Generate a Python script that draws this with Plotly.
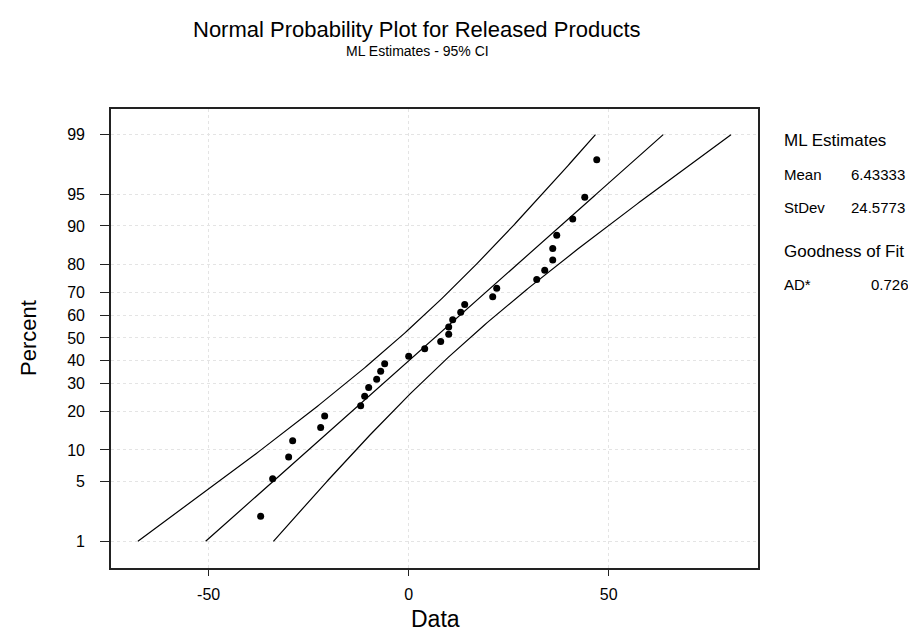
import numpy as np
import plotly.graph_objects as go
from statistics import NormalDist

# ---- data ----
data_values = [-37, -34, -30, -29, -22, -21, -12, -11, -10, -8, -7, -6, 0, 4, 8,
               10, 10, 11, 13, 14, 21, 22, 32, 34, 36, 36, 37, 41, 44, 47]
plot_percent = [2.07, 5.37, 8.68, 11.98, 15.29, 18.60, 21.90, 25.21, 28.51, 31.82,
                35.12, 38.43, 41.74, 45.04, 48.35, 51.65, 54.96, 58.26, 61.57, 64.88,
                68.18, 71.49, 74.79, 78.10, 81.40, 84.71, 88.02, 91.32, 94.63, 97.93]
percent_ticks = [1, 5, 10, 20, 30, 40, 50, 60, 70, 80, 90, 95, 99]
x_ticks = [-50, 0, 50]
ml_mean = 6.43333
ml_stdev = 24.5773
ad_stat = 0.726
n_obs = 30
ci_level_z = 1.96

nd = NormalDist()
def z_of(p):
    return nd.inv_cdf(p / 100.0)

FONT = "Liberation Sans, Arial, Helvetica, sans-serif"

# fitted line and ML confidence bands (from the stated estimates)
zgrid = np.linspace(z_of(1), z_of(99), 200)
fit_x = ml_mean + ml_stdev * zgrid
se = ml_stdev * np.sqrt(1.0 / n_obs + zgrid ** 2 / (2.0 * n_obs))
lower_x = fit_x - ci_level_z * se
upper_x = fit_x + ci_level_z * se

fig = go.Figure()
line_style = dict(color="black", width=1.2)
for xs in (upper_x, fit_x, lower_x):
    fig.add_trace(go.Scatter(x=xs, y=zgrid, mode="lines", line=line_style,
                             hoverinfo="skip", showlegend=False))
fig.add_trace(go.Scatter(x=data_values, y=[z_of(p) for p in plot_percent],
                         mode="markers",
                         marker=dict(symbol="circle", size=7, color="black"),
                         showlegend=False))

axis_common = dict(
    showline=True, mirror=True, linecolor="#222", linewidth=1.6,
    ticks="outside", tickcolor="#222", tickwidth=1.2,
    showgrid=True, gridcolor="#e4e4e4", griddash="dot", gridwidth=1,
    zeroline=False, tickfont=dict(family=FONT, size=16, color="black"),
)

fig.update_xaxes(range=[-74.4, 87.3], tickvals=x_ticks,
                 ticktext=[str(v) for v in x_ticks], ticklen=6,
                 ticklabelstandoff=5, **axis_common)
fig.update_yaxes(range=[-2.632, 2.620], tickvals=[z_of(p) for p in percent_ticks],
                 ticktext=[str(p) for p in percent_ticks], ticklen=9,
                 ticklabelstandoff=12, **axis_common)

def px_x(px):
    return (px - 103) / 647.0
def px_y(py):
    return (560 - py) / 459.0

ann = []
ann.append(dict(text="Normal Probability Plot for Released Products", x=px_x(409), y=px_y(21),
                font=dict(family=FONT, size=22, color="black")))
ann.append(dict(text="ML Estimates - 95% CI", x=px_x(409), y=px_y(43),
                font=dict(family=FONT, size=14, color="black")))
ann.append(dict(text="Data", x=px_x(427), y=px_y(611),
                font=dict(family=FONT, size=23, color="black")))
ann.append(dict(text="Percent", x=px_x(20), y=px_y(330), textangle=-90,
                font=dict(family=FONT, size=22, color="black")))
# statistics panel
left = px_x(775)
right = px_x(898)
ann.append(dict(text="ML Estimates", x=left, y=px_y(132), xanchor="left",
                font=dict(family=FONT, size=17, color="black")))
ann.append(dict(text="Mean", x=left, y=px_y(166), xanchor="left",
                font=dict(family=FONT, size=15, color="black")))
ann.append(dict(text=f"{ml_mean:.5f}", x=right, y=px_y(166), xanchor="right",
                font=dict(family=FONT, size=15, color="black")))
ann.append(dict(text="StDev", x=left, y=px_y(199), xanchor="left",
                font=dict(family=FONT, size=15, color="black")))
ann.append(dict(text=f"{ml_stdev:.4f}", x=right, y=px_y(199), xanchor="right",
                font=dict(family=FONT, size=15, color="black")))
ann.append(dict(text="Goodness of Fit", x=left, y=px_y(243), xanchor="left",
                font=dict(family=FONT, size=17, color="black")))
ann.append(dict(text="AD*", x=left, y=px_y(276), xanchor="left",
                font=dict(family=FONT, size=15, color="black")))
ann.append(dict(text=f"{ad_stat:.3f}", x=px_x(902), y=px_y(276), xanchor="right",
                font=dict(family=FONT, size=15, color="black")))
for a in ann:
    a.setdefault("xanchor", "center")
    a.update(xref="paper", yref="paper", yanchor="middle", showarrow=False,
             borderpad=0)

fig.update_layout(
    width=916, height=631,
    margin=dict(l=103, r=166, t=101, b=71),
    paper_bgcolor="white", plot_bgcolor="white",
    annotations=ann, showlegend=False,
    font=dict(family=FONT, color="black"),
)

fig.write_html("out.html")
